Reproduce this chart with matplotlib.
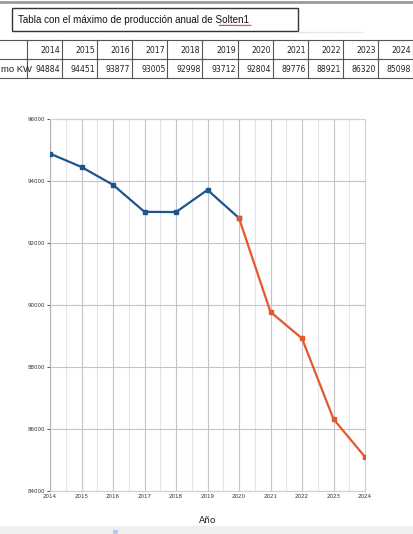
import numpy as np
import matplotlib.pyplot as plt
from matplotlib.ticker import MultipleLocator

years = [2014, 2015, 2016, 2017, 2018, 2019, 2020, 2021, 2022, 2023, 2024]
max_kw = [94884, 94451, 93877, 93005, 92998, 93712, 92804, 89776, 88921, 86320, 85098]
split_year = 2020
title_text = "Tabla con el máximo de producción anual de Solten1"
row_label = "mo KW"

W, H = 414, 534
fig = plt.figure(figsize=(W / 100, H / 100), dpi=100)
fig.patch.set_facecolor("white")

# overlay in pixel units for the screenshot bits (title box + table)
ov = fig.add_axes([0, 0, 1, 1])
ov.set_xlim(0, W)
ov.set_ylim(H, 0)
ov.axis("off")

ov.plot([0, W], [1.5, 1.5], color="#9a9a9a", lw=2)
ov.add_patch(plt.Rectangle((12, 8), 286, 23, fill=False, ec="#333333", lw=1))
ov.plot([298, 362], [31.5, 31.5], color="#e6e6e6", lw=1)
ov.text(18, 20, title_text, fontsize=7.1, family="Liberation Sans",
        va="center", ha="left", color="#111111")
# spellcheck squiggle under "Solten1"
sx = np.linspace(219, 251, 40)
ov.plot(sx, 25.4 + 0.5 * np.sin(sx * 2.5), color="#d03030", lw=0.6)

# table
x0, cw = 27, 35.1
y_top, y_mid, y_bot = 40, 59, 78
right = x0 + cw * len(years)
for y in (y_top, y_mid, y_bot):
    ov.plot([0, right], [y, y], color="#555555", lw=0.8)
for i in range(len(years) + 1):
    xx = x0 + cw * i
    ov.plot([xx, xx], [y_top, y_bot], color="#555555", lw=0.8)
for i, (yr, v) in enumerate(zip(years, max_kw)):
    xr = x0 + cw * (i + 1) - 2
    ov.text(xr, (y_top + y_mid) / 2 + 1, str(yr), fontsize=6.2,
            family="DejaVu Sans", fontstretch="condensed",
            ha="right", va="center", color="#222222")
    ov.text(xr, (y_mid + y_bot) / 2 + 1, str(v), fontsize=6.2,
            family="DejaVu Sans", fontstretch="condensed",
            ha="right", va="center", color="#222222")
ov.text(1, (y_mid + y_bot) / 2 + 1, row_label, fontsize=6.8,
        family="Liberation Sans", ha="left", va="center", color="#222222")

# light browser bar at the bottom
ov.add_patch(plt.Rectangle((0, 526), W, 8, color="#efefef", lw=0))
ov.add_patch(plt.Rectangle((113, 530), 5, 4, color="#b8c8e8", lw=0))

# the chart
ax = fig.add_axes([50 / W, 1 - 491 / H, 315 / W, 372 / H])
k = years.index(split_year)
ax.plot(years[:k + 1], max_kw[:k + 1], color="#1d5590", lw=1.6,
        marker="s", ms=3.5, zorder=3)
ax.plot(years[k:], max_kw[k:], color="#e5562c", lw=1.6,
        marker="s", ms=2.2, zorder=3)

ax.set_xlim(2014, 2024)
ax.set_ylim(84000, 96000)
ax.xaxis.set_major_locator(MultipleLocator(1))
ax.xaxis.set_minor_locator(MultipleLocator(0.5))
ax.yaxis.set_major_locator(MultipleLocator(2000))
ax.grid(which="major", color="#c4c4c8", lw=0.8)
ax.grid(which="minor", axis="x", color="#e4e4e8", lw=0.8)
for s in ax.spines.values():
    s.set_color("#d0d0d4")
    s.set_linewidth(0.8)
ax.spines["left"].set_color("#b0b0b4")
ax.tick_params(axis="both", labelsize=4, colors="#333333", length=2,
               width=0.6, pad=1.5)
ax.tick_params(axis="x", length=0, pad=2.5)
ax.tick_params(which="minor", length=0)
ax.set_xlabel("Año", fontsize=6.5, labelpad=12, color="#222222")

fig.savefig("out.png", dpi=100)
